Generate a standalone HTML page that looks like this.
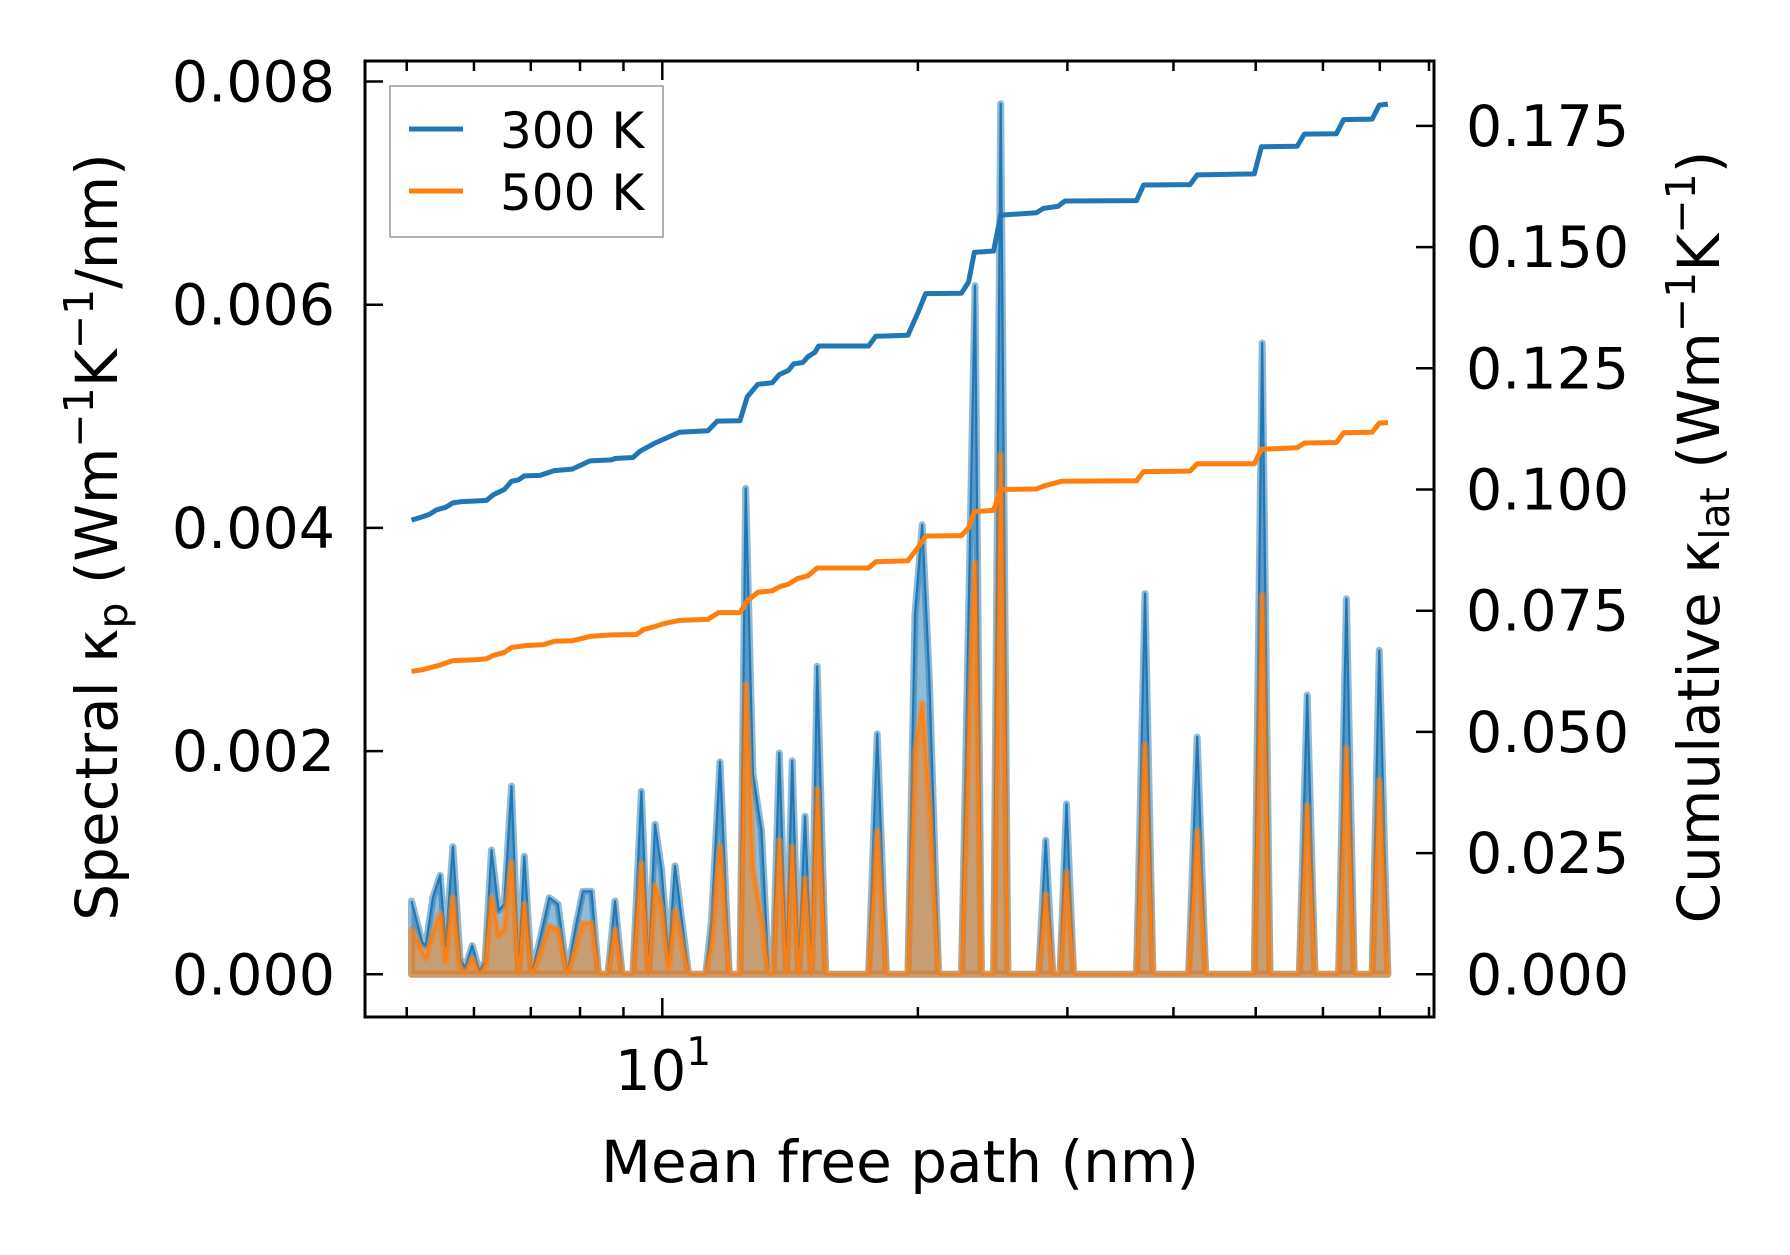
<!DOCTYPE html>
<html><head><meta charset="utf-8"><style>
html,body{margin:0;padding:0;background:#fff;}
svg{display:block;font-family:"DejaVu Sans","Liberation Sans",sans-serif;}
</style></head><body>
<svg id="chart" width="1790" height="1255" viewBox="0 0 1790 1255" xmlns="http://www.w3.org/2000/svg">
<g id="plot"></g>
<g id="axes"></g>
</svg>
<script>
const specX=[5.065,5.214,5.265,5.368,5.473,5.558,5.667,5.778,5.857,5.971,6.088,6.183,6.292,6.415,6.515,6.643,6.772,6.878,7.013,7.150,7.361,7.534,7.726,7.908,8.062,8.252,8.413,8.628,8.797,8.969,9.233,9.450,9.635,9.805,9.977,10.172,10.351,10.739,11.250,11.426,11.695,11.993,12.347,12.539,12.785,13.086,13.341,13.497,13.735,14.004,14.222,14.473,14.727,14.986,15.220,15.578,17.498,17.909,18.366,19.465,19.846,20.234,20.630,21.156,22.509,22.949,23.352,23.763,24.559,25.039,25.529,27.747,28.289,28.843,29.407,29.925,30.510,36.182,37.033,37.830,41.677,42.657,43.661,49.807,50.880,51.976,56.272,57.484,58.721,62.598,63.946,65.323,68.564,69.905,71.550];
const spec300=[0.657,0.286,0.257,0.686,0.886,0.257,1.143,0.143,0.057,0.257,0.029,0.114,1.114,0.571,0.629,1.686,0,1.057,0,0.257,0.686,0.629,0,0.429,0.743,0.743,0,0,0.657,0,0,1.640,0,1.343,0.943,0.143,0.971,0,0,0.486,1.903,0,0,4.354,1.800,1.286,0,0,1.983,0,1.914,0,1.417,0,2.760,0,0,2.154,0,0,3.228,4.028,2.657,0,0,3.228,6.171,0,0,7.800,0,0,1.200,0,0,1.526,0,0,3.411,0,0,2.126,0,0,5.657,0,0,2.503,0,0,3.366,0,0,2.903,0];
const spec500=[0.400,0.200,0.143,0.371,0.543,0.114,0.686,0.057,0,0.143,0,0.057,0.686,0.343,0.400,1.000,0,0.629,0,0.143,0.429,0.400,0,0.229,0.457,0.457,0,0,0.400,0,0,0.989,0,0.800,0.600,0.057,0.571,0,0,0.257,1.143,0,0,2.600,0.943,0.486,0,0,1.200,0,1.143,0,0.857,0,1.657,0,0,1.286,0,0,1.971,2.428,1.514,0,0,2.086,3.686,0,0,4.657,0,0,0.714,0,0,0.914,0,0,2.057,0,0,1.286,0,0,3.400,0,0,1.514,0,0,2.028,0,0,1.743,0];
const cumX300=[5.065,5.214,5.316,5.420,5.558,5.667,5.800,6.029,6.207,6.329,6.515,6.643,6.772,6.878,7.178,7.461,7.831,8.220,8.712,8.797,9.233,9.414,9.786,10.074,10.472,11.316,11.605,12.347,12.588,12.960,13.471,13.735,14.085,14.277,14.641,14.842,15.132,15.279,17.498,17.840,19.465,20.039,20.431,22.509,22.949,23.307,24.559,25.039,27.586,28.125,29.237,29.808,36.182,36.888,41.838,42.657,49.807,50.781,55.946,57.040,62.235,63.451,68.564,69.905,71.550];
const cum300=[0.09368,0.09434,0.09487,0.09579,0.09632,0.09724,0.09750,0.09763,0.09776,0.09895,0.1000,0.1017,0.1020,0.1028,0.1029,0.1039,0.1042,0.1059,0.1061,0.1064,0.1066,0.1079,0.1095,0.1105,0.1118,0.1121,0.1141,0.1142,0.1191,0.1217,0.1220,0.1237,0.1246,0.1259,0.1262,0.1274,0.1283,0.1296,0.1296,0.1316,0.1318,0.1368,0.1404,0.1405,0.1428,0.1489,0.1492,0.1566,0.1571,0.1580,0.1584,0.1595,0.1596,0.1628,0.1629,0.1649,0.1651,0.1707,0.1708,0.1733,0.1734,0.1763,0.1764,0.1793,0.1795];
const cumX500=[5.065,5.214,5.368,5.473,5.667,6.029,6.207,6.329,6.515,6.643,6.905,7.248,7.461,7.831,8.220,8.712,9.323,9.505,9.786,10.074,10.472,11.316,11.650,12.347,12.588,12.960,13.471,13.735,14.085,14.417,14.842,15.220,17.498,17.840,19.465,20.039,20.431,22.509,22.949,23.307,24.559,25.039,27.586,28.125,29.520,36.182,36.888,41.838,42.657,49.807,50.781,55.946,57.040,62.235,63.451,68.564,69.905,71.550];
const cum500=[0.0625,0.0628,0.0634,0.0638,0.0647,0.0649,0.0651,0.0658,0.0664,0.0674,0.0678,0.0680,0.0687,0.0688,0.0697,0.0700,0.0701,0.0711,0.0717,0.0724,0.0730,0.0732,0.0746,0.0746,0.0770,0.0788,0.0791,0.0799,0.0805,0.0816,0.0822,0.0838,0.0838,0.0851,0.0853,0.0882,0.0904,0.0905,0.0921,0.0954,0.0957,0.1000,0.1001,0.1007,0.1017,0.1018,0.1037,0.1038,0.1053,0.1053,0.1083,0.1086,0.1096,0.1097,0.1117,0.1118,0.1137,0.1138];
const leftTicks=[0,0.002,0.004,0.006,0.008];
const leftTickLabels=["0.000","0.002","0.004","0.006","0.008"];
const rightTicks=[0,0.025,0.05,0.075,0.1,0.125,0.15,0.175];
const rightTickLabels=["0.000","0.025","0.050","0.075","0.100","0.125","0.150","0.175"];
const xMinor=[5,6,7,8,9,20,30,40,50,60,70,80];

const L=365,R=1434,T=61,B=1017;
const X=v=>662.3+849*Math.log10(v/10);
const YL=v=>974.3-v/0.002*223.2;
const YR=v=>974.3-v/0.025*121.2;
const NS="http://www.w3.org/2000/svg";
const plot=document.getElementById('plot'),axes=document.getElementById('axes');
function mk(tag,attrs,parent){const e=document.createElementNS(NS,tag);for(const k in attrs)e.setAttribute(k,attrs[k]);parent.appendChild(e);return e;}
function linePts(xs,ys,f){return xs.map((x,i)=>X(x).toFixed(1)+','+f(ys[i]).toFixed(1)).join(' ');}

function drawSpec(ys,color,name){
  const scaled=ys.map(v=>v/1000);
  const pts=linePts(specX,scaled,YL);
  const area=pts+' '+X(specX[specX.length-1]).toFixed(1)+','+YL(0)+' '+X(specX[0]).toFixed(1)+','+YL(0);
  const a=mk('polygon',{points:area,fill:color,'fill-opacity':0.5,stroke:color,'stroke-opacity':0.5,'stroke-width':7,'stroke-linejoin':'round'},plot);
  
  
  const l=mk('polyline',{points:pts,fill:'none',stroke:color,'stroke-width':2.2,'stroke-linejoin':'round'},plot);
  
  
}
drawSpec(spec300,'#1f77b4','spectral-300k');
drawSpec(spec500,'#ff7f0e','spectral-500k');

const c3=mk('polyline',{points:linePts(cumX300,cum300,YR),fill:'none',stroke:'#1f77b4','stroke-width':5,'stroke-linejoin':'round'},plot);


const c5=mk('polyline',{points:linePts(cumX500,cum500,YR),fill:'none',stroke:'#ff7f0e','stroke-width':5,'stroke-linejoin':'round'},plot);



const fr=mk('rect',{x:L,y:T,width:R-L,height:B-T,fill:'none',stroke:'#000','stroke-width':3},axes);


const tk={stroke:'#000','stroke-width':2.5};
leftTicks.forEach((v,i)=>{
  const y=YL(v);
  const t=mk('line',Object.assign({x1:L,x2:L+18,y1:y,y2:y},tk),axes);
  
  
  const s=mk('text',{x:335,y:y+20,'font-size':57,'text-anchor':'end'},axes);
  s.textContent=leftTickLabels[i];
  
  
});
rightTicks.forEach((v,i)=>{
  const y=YR(v);
  const t=mk('line',Object.assign({x1:R-18,x2:R,y1:y,y2:y},tk),axes);
  
  
  const s=mk('text',{x:1466,y:y+20,'font-size':57},axes);
  s.textContent=rightTickLabels[i];
  
  
});
xMinor.forEach(v=>{
  const x=X(v);
  [[B,B-10],[T,T+10]].forEach(p=>{
    const t=mk('line',Object.assign({x1:x,x2:x,y1:p[0],y2:p[1]},tk),axes);
    
    
  });
});
[[B,B-19],[T,T+19]].forEach(p=>{
  const t=mk('line',Object.assign({x1:X(10),x2:X(10),y1:p[0],y2:p[1]},tk),axes);
  
  
});
</script>
<svg style="position:absolute;left:0;top:0" width="1790" height="1255">
<text x="615" y="1090" font-size="56" font-family="DejaVu Sans, sans-serif">10<tspan font-size="39" dy="-25">1</tspan></text>
<text x="900" y="1182" font-size="58" text-anchor="middle" font-family="DejaVu Sans, sans-serif">Mean free path (nm)</text>
<text transform="translate(117,537) rotate(-90)" font-size="58" text-anchor="middle" font-family="DejaVu Sans, sans-serif">Spectral κ<tspan font-size="41" dy="10">p</tspan><tspan dy="-10"> (Wm</tspan><tspan font-size="41" dy="-24">−1</tspan><tspan dy="24">K</tspan><tspan font-size="41" dy="-24">−1</tspan><tspan dy="24">/nm)</tspan></text>
<text transform="translate(1719,537) rotate(-90)" font-size="58" text-anchor="middle" font-family="DejaVu Sans, sans-serif">Cumulative κ<tspan font-size="41" dy="10">lat</tspan><tspan dy="-10"> (Wm</tspan><tspan font-size="41" dy="-24">−1</tspan><tspan dy="24">K</tspan><tspan font-size="41" dy="-24">−1</tspan><tspan dy="24">)</tspan></text>
<g font-family="DejaVu Sans, sans-serif">
<rect x="390" y="86" width="273" height="151" fill="#fff" fill-opacity="0.8" stroke="#999" stroke-width="1.5"/>
<line x1="409" y1="129" x2="463" y2="129" stroke="#1f77b4" stroke-width="5"/>
<text x="500" y="148" font-size="50">300 K</text>
<line x1="409" y1="191" x2="463" y2="191" stroke="#ff7f0e" stroke-width="5"/>
<text x="500" y="210" font-size="50">500 K</text>
</g>
</svg>
</body></html>
